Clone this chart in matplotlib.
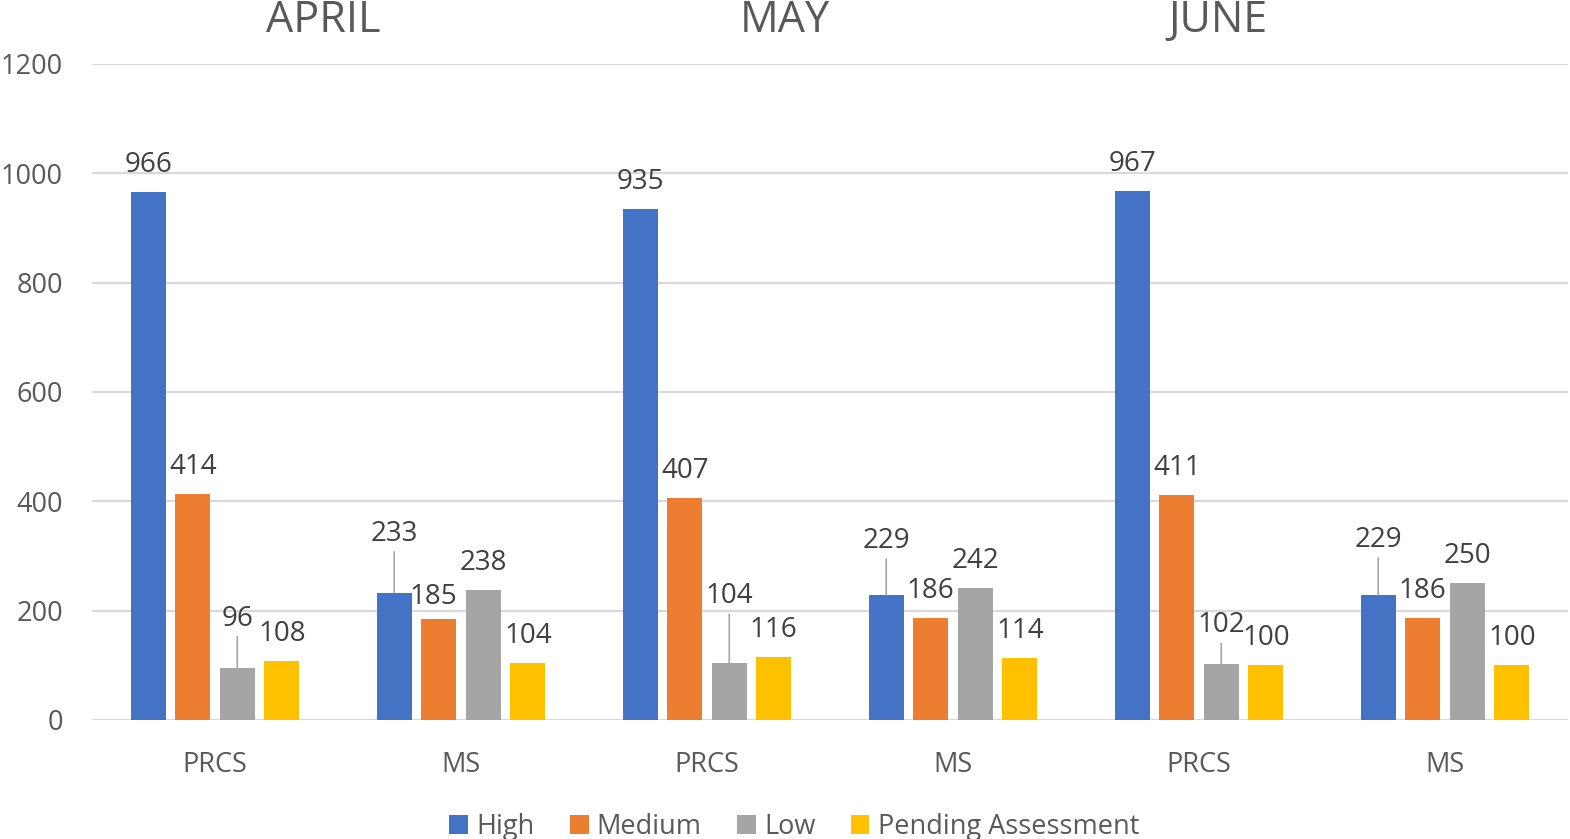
import numpy as np
import matplotlib.pyplot as plt

plt.rcParams['font.family'] = ['Open Sans', 'DejaVu Sans']

months = ['APRIL', 'MAY', 'JUNE']
categories = ['PRCS', 'MS', 'PRCS', 'MS', 'PRCS', 'MS']
series = ['High', 'Medium', 'Low', 'Pending Assessment']
high = [966, 233, 935, 229, 967, 229]
medium = [414, 185, 407, 186, 411, 186]
low = [96, 238, 104, 242, 102, 250]
pending = [108, 104, 116, 114, 100, 100]
colors = ['#4472C4', '#ED7D31', '#A5A5A5', '#FFC000']

# label lift above bar top in pixels (default 27), leader lines where it was moved
lift = {(0, 2): 49, (1, 0): 59, (2, 2): 67, (3, 0): 54, (4, 2): 39, (5, 0): 55,
        (1, 1): 22}
shift_x = {(1, 1): -5}

fig = plt.figure(figsize=(15.70, 8.39), dpi=100)
ax = fig.add_axes([92 / 1570, 119 / 839, 1476 / 1570, 656 / 839])

x = np.arange(len(categories))
step = 0.181
width = 0.142
values = [high, medium, low, pending]
for s, (name, vals, col) in enumerate(zip(series, values, colors)):
    pos = x + (s - 1.5) * step
    ax.bar(pos, vals, width, color=col, label=name, zorder=3)
    for c, (px, v) in enumerate(zip(pos, vals)):
        dy = lift.get((c, s), 27)
        dx = shift_x.get((c, s), 0)
        moved = dy > 35
        ax.annotate(str(v), xy=(px, v), xytext=(dx, dy), textcoords='offset pixels',
                    ha='center', va='center', fontsize=20, color='#404040',
                    arrowprops=dict(arrowstyle='-', color='#a6a6a6', lw=1.2,
                                    shrinkA=1, shrinkB=0) if moved else None)

ax.set_xlim(-0.5, 5.5)
ax.set_ylim(0, 1200)
ax.set_yticks(range(0, 1201, 200))
ax.set_xticks(x)
ax.set_xticklabels(categories)
ax.tick_params(axis='both', length=0, labelsize=19.5, labelcolor='#595959')
ax.tick_params(axis='y', pad=21)
ax.tick_params(axis='x', pad=22)
ax.grid(axis='y', color='#d9d9d9', lw=1.6, zorder=0)
for sp in ax.spines.values():
    sp.set_visible(False)

for m, xp in zip(months, [323, 785, 1218]):
    fig.text(xp / 1570, 1 - 21 / 839, m, ha='center', va='center',
             fontsize=31, color='#595959')

fig.legend(loc='lower center', bbox_to_anchor=(794 / 1570, -0.031), ncol=4,
           frameon=False, fontsize=19.5, labelcolor='#595959',
           handlelength=0.7, handleheight=0.7, handletextpad=0.3,
           columnspacing=1.3)

fig.savefig('out.png', dpi=100)
